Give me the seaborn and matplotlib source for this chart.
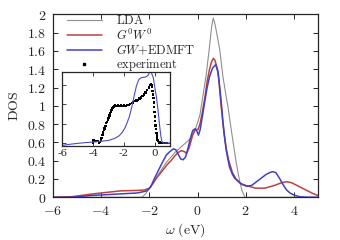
import numpy as np
import pandas as pd
import matplotlib
matplotlib.use("Agg")
import matplotlib.pyplot as plt
from matplotlib.ticker import FuncFormatter
import seaborn as sns

# ---------------- data ----------------
lda_x = [-6, -2.3, -2.15, -2.0, -1.85, -1.7, -1.5, -1.3, -1.1, -0.9, -0.6, -0.3, -0.1,
         0.1, 0.22, 0.36, 0.5, 0.58, 0.65, 0.72, 0.78, 0.92, 1.05, 1.19, 1.26, 1.4,
         1.47, 1.6, 1.74, 1.85, 1.97, 2.05, 5.0]
lda_y = [0, 0, 0.04, 0.1, 0.15, 0.22, 0.3, 0.38, 0.44, 0.5, 0.57, 0.64, 0.73,
         0.9, 1.1, 1.34, 1.65, 1.85, 1.96, 1.9, 1.82, 1.62, 1.33, 1.1, 1.0, 0.74,
         0.62, 0.39, 0.19, 0.07, 0.0, 0.0, 0.0]

g0w0_x = [-6, -5.2, -4.4, -3.9, -3.2, -2.5, -2.2, -2.0, -1.85, -1.7, -1.55, -1.4, -1.25,
          -1.1, -0.95, -0.8, -0.67, -0.55, -0.45, -0.35, -0.2, -0.1, 0.02, 0.1, 0.2,
          0.3, 0.4, 0.5, 0.58, 0.66, 0.72, 0.8, 0.88, 0.98, 1.1, 1.2, 1.3, 1.45, 1.6,
          1.8, 2.0, 2.4, 2.8, 3.2, 3.5, 3.7, 3.9, 4.2, 4.5, 4.8, 5.0]
g0w0_y = [0, 0.007, 0.035, 0.05, 0.07, 0.075, 0.08, 0.1, 0.15, 0.21, 0.26, 0.31, 0.36,
          0.4, 0.45, 0.49, 0.51, 0.5, 0.48, 0.54, 0.68, 0.74, 0.74, 0.8, 0.93,
          1.08, 1.27, 1.4, 1.48, 1.52, 1.5, 1.43, 1.3, 1.0, 0.7, 0.52, 0.4, 0.27, 0.2,
          0.15, 0.13, 0.1, 0.1, 0.13, 0.16, 0.17, 0.16, 0.12, 0.08, 0.04, 0.02]

gw_x = [-6, -5.2, -4.4, -3.9, -3.2, -2.5, -2.1, -1.95, -1.8, -1.65, -1.5, -1.3, -1.15,
        -1.0, -0.9, -0.8, -0.7, -0.6, -0.5, -0.4, -0.3, -0.2, -0.1, -0.02, 0.04, 0.11,
        0.2, 0.29, 0.4, 0.5, 0.62, 0.75, 0.85, 0.92, 1.0, 1.05, 1.12, 1.19, 1.26, 1.33,
        1.45, 1.54, 1.7, 1.85, 2.05, 2.25, 2.45, 2.65, 2.85, 3.0, 3.12, 3.25, 3.4, 3.55,
        3.7, 3.85, 4.0, 4.25, 4.6, 5.0]
gw_y = [0, 0.0, 0.02, 0.027, 0.037, 0.047, 0.07, 0.11, 0.2, 0.28, 0.36, 0.46, 0.5,
        0.53, 0.52, 0.47, 0.42, 0.41, 0.44, 0.53, 0.64, 0.73, 0.75, 0.72, 0.68, 0.74,
        0.88, 1.03, 1.2, 1.32, 1.41, 1.45, 1.38, 1.21, 1.0, 0.84, 0.67, 0.52, 0.42, 0.33,
        0.25, 0.21, 0.17, 0.14, 0.12, 0.13, 0.17, 0.21, 0.25, 0.27, 0.28, 0.27, 0.21, 0.14,
        0.08, 0.045, 0.025, 0.005, 0.0, 0.0]

# inset: GW+EDMFT occupied part (arb. units)
ins_gw_x = [-6.0, -5.5, -5.0, -4.5, -4.0, -3.5, -3.0, -2.6, -2.3, -2.1, -1.95, -1.8,
            -1.65, -1.5, -1.35, -1.2, -1.05, -0.9, -0.75, -0.6, -0.45, -0.35, -0.28,
            -0.2, -0.1, 0.0, 0.1, 0.2, 0.3, 0.38, 0.45, 0.55, 0.7, 1.0]
ins_gw_y = [-0.13, -0.07, -0.02, 0.02, 0.05, 0.09, 0.14, 0.25, 0.4, 0.6, 0.8, 1.1,
            1.45, 1.95, 2.55, 3.1, 3.45, 3.56, 3.58, 3.6, 3.68, 3.84, 3.86,
            3.78, 3.55, 3.0, 2.5, 1.8, 1.0, 0.4, 0.1, 0.0, 0.0, 0.0]

# inset: experiment (arb. units)
exp_x = [-4.0, -3.97, -3.9, -3.8, -3.7, -3.62, -3.55, -3.5, -3.45, -3.4, -3.35, -3.3,
         -3.25, -3.2, -3.15, -3.1, -3.05, -3.0, -2.95, -2.9, -2.85, -2.8, -2.75, -2.7,
         -2.65, -2.6, -2.5, -2.4, -2.3, -2.2, -2.1, -2.0, -1.9, -1.8, -1.7, -1.6, -1.5,
         -1.4, -1.3, -1.2, -1.1, -1.0, -0.9, -0.8, -0.7, -0.6, -0.5, -0.4, -0.3, -0.25,
         -0.2, -0.175, -0.15, -0.125, -0.1, -0.075, -0.05, -0.025, 0.0, 0.025, 0.05,
         0.075, 0.1, 0.125, 0.15, 0.175, 0.2, 0.25, 0.3, 0.4, 0.5, 0.6, 0.7, 0.8]
exp_y = [0.0, 0.13, 0.12, 0.12, 0.11, 0.03, 0.06, 0.15, 0.26, 0.42, 0.58, 0.7,
         0.8, 0.92, 1.08, 1.15, 1.28, 1.35, 1.5, 1.6, 1.72, 1.8, 1.9, 1.96,
         2.0, 2.05, 2.02, 2.05, 2.01, 2.04, 2.02, 2.04, 2.03, 2.06, 2.08, 2.12, 2.17,
         2.22, 2.28, 2.32, 2.36, 2.42, 2.48, 2.55, 2.65, 2.75, 2.88, 3.02, 3.15, 3.22,
         3.18, 3.05, 2.85, 2.65, 2.45, 2.2, 1.95, 1.7, 1.45, 1.2, 0.95,
         0.75, 0.55, 0.4, 0.27, 0.17, 0.1, 0.05, 0.02, 0.01, 0.0, 0.0, 0.0, 0.0]

x_ticks = [-6, -4, -2, 0, 2, 4]
y_ticks = [0, 0.2, 0.4, 0.6, 0.8, 1.0, 1.2, 1.4, 1.6, 1.8, 2.0]
ins_x_ticks = [-6, -4, -2, 0]

# ---------------- style ----------------
sns.set_style("ticks")
plt.rcParams["mathtext.fontset"] = "cm"
plt.rcParams["font.family"] = ["DejaVu Serif"]
plt.rcParams["xtick.direction"] = "in"
plt.rcParams["ytick.direction"] = "in"
plt.rcParams["xtick.top"] = True
plt.rcParams["ytick.right"] = True

c_lda = "#8f8f8f"
c_g0w0 = "#c0403c"
c_gw = "#4141c4"

fig = plt.figure(figsize=(3.4, 2.4), dpi=100)
ax = fig.add_axes([0.156, 0.178, 0.779, 0.762])

sns.lineplot(x=lda_x, y=lda_y, ax=ax, color=c_lda, lw=0.8, sort=False,
             label=r"$\mathrm{LDA}$")
sns.lineplot(x=g0w0_x, y=g0w0_y, ax=ax, color=c_g0w0, lw=1.1, sort=False,
             label=r"$G^0W^0$")
sns.lineplot(x=gw_x, y=gw_y, ax=ax, color=c_gw, lw=1.1, sort=False,
             label=r"$GW\mathrm{+EDMFT}$")
ax.plot([], [], ls="none", marker="s", ms=2.0, color="black",
        label=r"$\mathrm{experiment}$")

ax.set_xlim(-6, 5)
ax.set_ylim(0, 2)
ax.set_xticks(x_ticks)
ax.set_yticks(y_ticks)
ax.xaxis.set_major_formatter(FuncFormatter(lambda v, p: f"${v:g}$"))
ax.yaxis.set_major_formatter(FuncFormatter(lambda v, p: f"${round(v, 1):g}$"))
ax.tick_params(labelsize=10, length=3.5, width=0.7)
ax.tick_params(axis="x", pad=5)
ax.tick_params(axis="y", pad=5)
for s in ax.spines.values():
    s.set_linewidth(0.9)
ax.set_xlabel(r"$\omega\ \mathrm{(eV)}$", fontsize=10, labelpad=2)
ax.set_ylabel(r"$\mathrm{DOS}$", fontsize=10, labelpad=4)

leg = ax.legend(loc="upper left", bbox_to_anchor=(0.037, 1.02), frameon=False,
                fontsize=9, handlelength=2.85, handletextpad=1.1,
                labelspacing=0.0, borderpad=0.3, borderaxespad=0.0)

# ---------------- inset ----------------
axi = fig.add_axes([0.183, 0.392, 0.318, 0.307])
sns.lineplot(x=ins_gw_x, y=ins_gw_y, ax=axi, color="#4b4bc8", lw=0.8, sort=False)
sns.scatterplot(x=exp_x, y=exp_y, ax=axi, color="black", s=3, marker="s",
                edgecolor="none", linewidth=0)
axi.set_xlim(-6, 1)
axi.set_ylim(-0.16, 3.86)
axi.set_xticks(ins_x_ticks)
axi.set_yticks([0, 1.06, 2.12, 3.18])
axi.set_yticklabels([])
axi.set_xticklabels([f"{t}" for t in ins_x_ticks], family="serif")
axi.tick_params(labelsize=7.5, length=3, width=0.6, pad=2)
for s in axi.spines.values():
    s.set_linewidth(0.9)

# keep the main axes (with its legend) above the inset
axi.set_zorder(1)
ax.set_zorder(2)
ax.patch.set_visible(False)

fig.savefig("out.png", dpi=100)
